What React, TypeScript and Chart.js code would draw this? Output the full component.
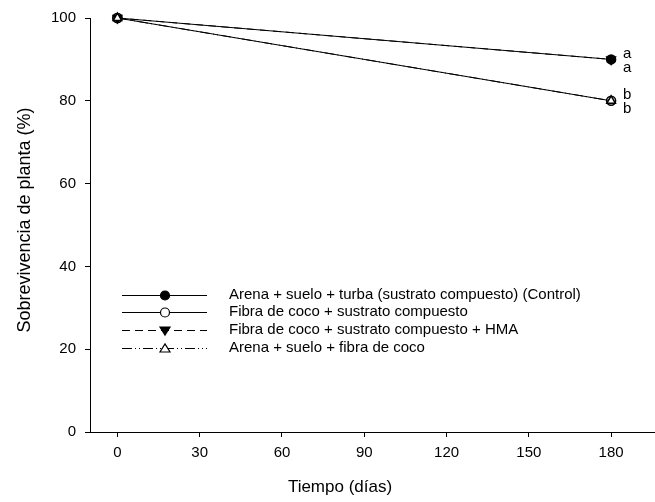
import React, { useEffect, useRef } from "react";
import { Chart, registerables } from "chart.js";

Chart.register(...registerables);

const days = [0, 180];
const xTicks = [0, 30, 60, 90, 120, 150, 180];
const yTicks = [0, 20, 40, 60, 80, 100];

const seriesNames = [
  "Arena + suelo + turba (sustrato compuesto) (Control)",
  "Fibra de coco + sustrato compuesto",
  "Fibra de coco + sustrato compuesto + HMA",
  "Arena + suelo + fibra de coco",
];
const controlValues = [100, 90];
const fibraSustratoValues = [100, 80];
const fibraHmaValues = [100, 90];
const arenaFibraValues = [100, 80];

// significance letters at day 180
const letterValues = [90, 90, 80, 80];
const letters = ["a", "a", "b", "b"];

const FONT = "Arial, 'Liberation Sans', sans-serif";

export default function App() {
  const ref = useRef<HTMLCanvasElement | null>(null);

  useEffect(() => {
    document.body.style.margin = "0";
    const canvas = ref.current!;
    const dashes = [[], [], [8, 5], [10, 3, 1, 3, 1, 3]];
    const styles = [
      { ps: "circle", bg: "#000", rot: 0, r: 4.5 },
      { ps: "circle", bg: "#fff", rot: 0, r: 4.5 },
      { ps: "triangle", bg: "#000", rot: 180, r: 5 },
      { ps: "triangle", bg: "#fff", rot: 0, r: 5 },
    ];
    const values = [controlValues, fibraSustratoValues, fibraHmaValues, arenaFibraValues];

    const overlay = {
      id: "overlay",
      afterDatasetsDraw(chart: any) {
        const ctx = chart.ctx;
        const xs = chart.scales.x;
        const ys = chart.scales.y;
        ctx.save();
        // letters
        ctx.fillStyle = "#000";
        ctx.font = `15px ${FONT}`;
        ctx.textAlign = "center";
        ctx.textBaseline = "middle";
        letters.forEach((l, i) => {
          const px = xs.getPixelForValue(180) + 16;
          const py = ys.getPixelForValue(letterValues[i]) + (i % 2 === 0 ? -6 : 8.5);
          ctx.fillText(l, px, py);
        });
        // legend
        const rowsY = [295, 312, 330, 348];
        seriesNames.forEach((name, i) => {
          const y = rowsY[i];
          ctx.strokeStyle = "#000";
          ctx.lineWidth = 1;
          ctx.setLineDash(dashes[i]);
          ctx.beginPath();
          ctx.moveTo(122, y + 0.5);
          ctx.lineTo(207, y + 0.5);
          ctx.stroke();
          ctx.setLineDash([]);
          const st = styles[i];
          ctx.fillStyle = st.bg;
          ctx.lineWidth = 1.2;
          const cx = 165, cy = y + 0.5;
          if (st.ps === "circle") {
            ctx.beginPath();
            ctx.arc(cx, cy, st.r, 0, Math.PI * 2);
            ctx.fill();
            ctx.stroke();
          } else {
            ctx.beginPath();
            const r = st.r;
            if (st.rot === 180) {
              ctx.moveTo(cx - r, cy - r * 0.7);
              ctx.lineTo(cx + r, cy - r * 0.7);
              ctx.lineTo(cx, cy + r * 0.9);
            } else {
              ctx.moveTo(cx - r, cy + r * 0.7);
              ctx.lineTo(cx + r, cy + r * 0.7);
              ctx.lineTo(cx, cy - r * 0.9);
            }
            ctx.closePath();
            ctx.fill();
            ctx.stroke();
          }
          ctx.fillStyle = "#000";
          ctx.font = `15px ${FONT}`;
          ctx.textAlign = "left";
          ctx.textBaseline = "middle";
          ctx.fillText(name, 229, y);
        });
        // axis titles
        ctx.font = `17px ${FONT}`;
        ctx.textAlign = "center";
        ctx.textBaseline = "middle";
        ctx.fillText("Tiempo (días)", 340, 487);
        ctx.font = `18px ${FONT}`;
        ctx.translate(25, 220);
        ctx.rotate(-Math.PI / 2);
        ctx.fillText("Sobrevivencia de planta (%)", 0, 0);
        ctx.restore();
      },
    };

    const order = [3, 2, 1, 0];
    const chart = new Chart(canvas, {
      type: "line",
      data: {
        datasets: seriesNames.map((name, i) => ({
          label: name,
          data: days.map((d, j) => ({ x: d, y: values[i][j] })),
          borderColor: "#000",
          borderWidth: 1,
          borderDash: dashes[i],
          pointStyle: styles[i].ps,
          pointRotation: styles[i].rot,
          pointRadius: styles[i].r,
          pointBackgroundColor: styles[i].bg,
          pointBorderColor: "#000",
          pointBorderWidth: 1.5,
          fill: false,
          clip: false,
          order: order[i],
        })),
      },
      options: {
        animation: false,
        responsive: false,
        maintainAspectRatio: false,
        layout: { autoPadding: false, padding: { top: 17, right: 0, left: 0, bottom: 0 } },
        plugins: { legend: { display: false }, tooltip: { enabled: false } },
        scales: {
          x: {
            type: "linear",
            min: -10,
            max: 196,
            afterBuildTicks: (s: any) => {
              s.ticks = xTicks.map((v) => ({ value: v }));
            },
            afterFit: (s: any) => {
              s.height = 70;
              s.paddingRight = 0;
              s.paddingLeft = 0;
            },
            grid: { drawOnChartArea: false, drawTicks: true, tickLength: 5, color: "#000" },
            border: { display: true, color: "#000", width: 1 },
            ticks: { color: "#000", font: { family: FONT, size: 15 }, padding: 7, maxRotation: 0 },
          },
          y: {
            type: "linear",
            min: 0,
            max: 100,
            afterBuildTicks: (s: any) => {
              s.ticks = yTicks.map((v) => ({ value: v }));
            },
            afterFit: (s: any) => {
              s.width = 90;
            },
            grid: { drawOnChartArea: false, drawTicks: true, tickLength: 5, color: "#000" },
            border: { display: true, color: "#000", width: 1 },
            ticks: { color: "#000", font: { family: FONT, size: 15 }, padding: 9 },
          },
        },
      },
      plugins: [overlay],
    } as any);
    return () => chart.destroy();
  }, []);

  return (
    <div style={{ position: "absolute", left: 0, top: 0, width: 655, height: 502 }}>
      <canvas ref={ref} width={655} height={502} style={{ width: 655, height: 502, display: "block" }} />
    </div>
  );
}
